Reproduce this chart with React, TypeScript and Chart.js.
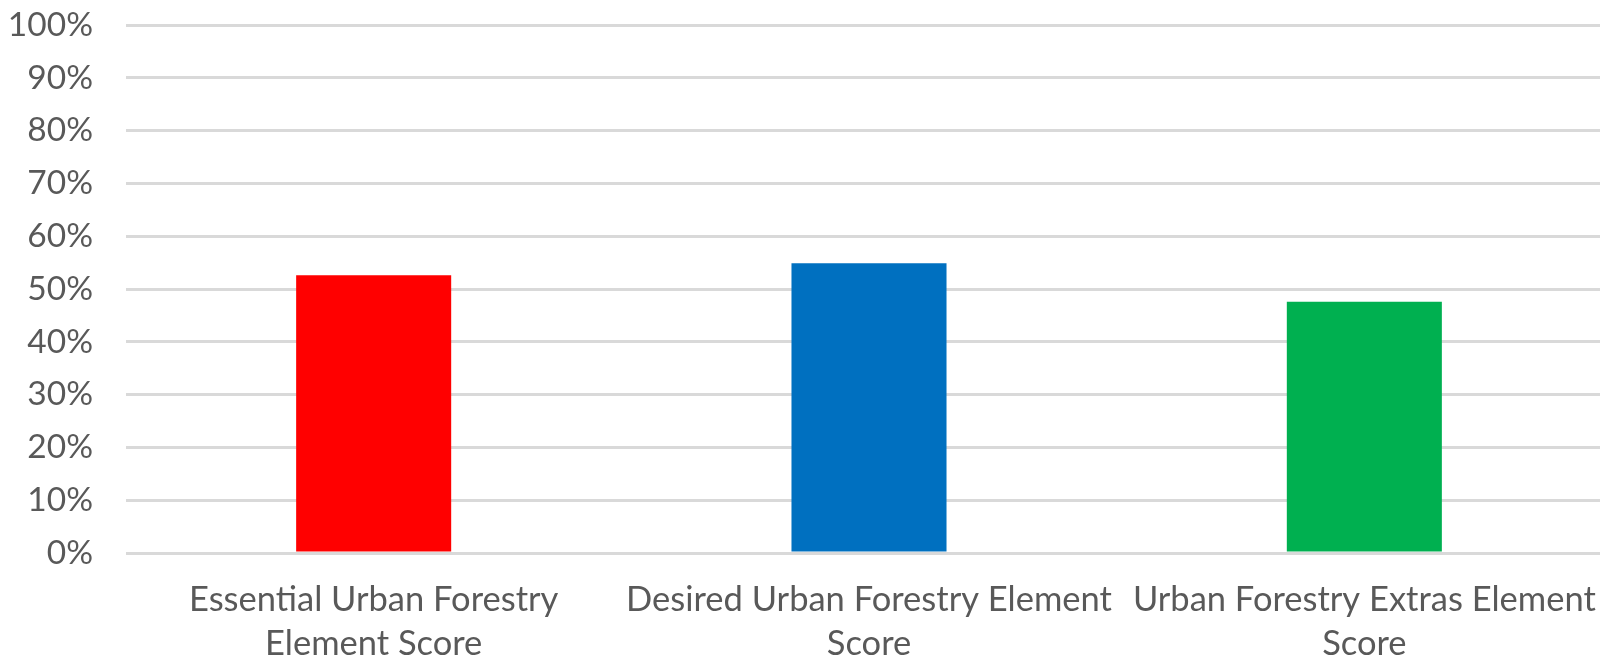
import React, { useEffect, useRef } from "react";
import { Chart, registerables } from "chart.js";

Chart.register(...registerables);

const categories: string[][] = [
  ["Essential Urban Forestry", "Element Score"],
  ["Desired Urban Forestry Element", "Score"],
  ["Urban Forestry Extras Element", "Score"],
];
const scores: number[] = [0.526, 0.549, 0.476];
const barColors: string[] = ["#FF0000", "#0070C0", "#00B050"];
const yTicks: number[] = [0, 0.1, 0.2, 0.3, 0.4, 0.5, 0.6, 0.7, 0.8, 0.9, 1];

export default function App() {
  const ref = useRef<HTMLCanvasElement | null>(null);
  useEffect(() => {
    const canvas = ref.current!;
    const chart = new Chart(canvas, {
      type: "bar",
      data: {
        labels: categories,
        datasets: [
          {
            data: scores,
            backgroundColor: barColors,
            borderWidth: 0,
            categoryPercentage: 1,
            barPercentage: 0.313,
          },
        ],
      },
      options: {
        animation: false,
        responsive: false,
        devicePixelRatio: 1,
        layout: { padding: 0 },
        plugins: { legend: { display: false }, tooltip: { enabled: false } },
        scales: {
          x: {
            grid: { display: false, drawTicks: false },
            border: { display: false },
            ticks: {
              color: "#595959",
              font: { family: "Lato", size: 34.5, lineHeight: 1.27 },
              padding: 25,
              maxRotation: 0,
              autoSkip: false,
            },
            afterFit: (s: any) => {
              s.height = 108;
              s.paddingLeft = 0;
              s.paddingRight = 0;
            },
          },
          y: {
            min: 0,
            max: 1,
            afterBuildTicks: (s: any) => {
              s.ticks = yTicks.map((v) => ({ value: v }));
            },
            grid: { color: "#d9d9d9", lineWidth: 3, drawTicks: false },
            border: { display: false },
            ticks: {
              color: "#595959",
              font: { family: "Lato", size: 33.5 },
              padding: 33,
              callback: (v: any) => Math.round(Number(v) * 100) + "%",
            },
            afterFit: (s: any) => {
              s.width = 126;
              s.paddingTop = 25;
              s.paddingBottom = 0;
            },
          },
        },
      },
    });
    return () => chart.destroy();
  }, []);
  return (
    <div
      style={{
        position: "fixed",
        left: 0,
        top: 0,
        width: 1600,
        height: 661,
        overflow: "hidden",
        background: "#fff",
      }}
    >
      <canvas ref={ref} width={1612} height={661} style={{ width: 1612, height: 661, display: "block" }} />
    </div>
  );
}
